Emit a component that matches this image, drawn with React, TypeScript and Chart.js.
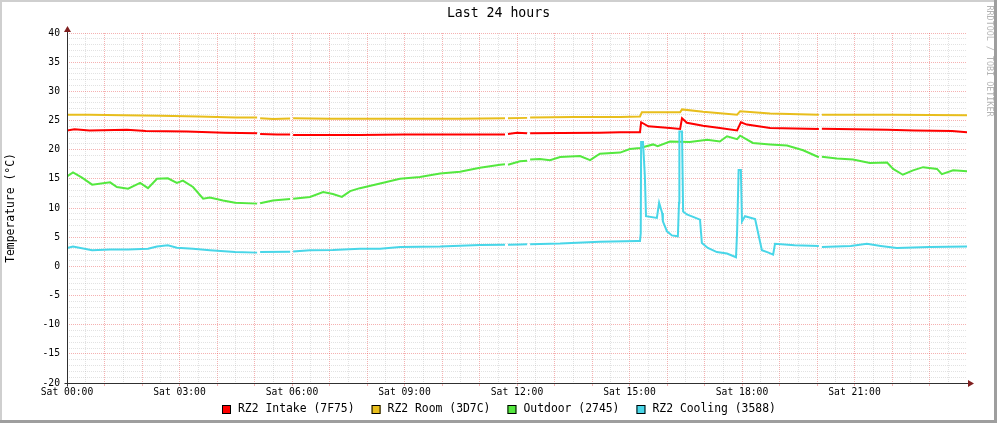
import React, { useEffect, useRef } from "react";
import { Chart, registerables } from "chart.js";

Chart.register(...registerables);

const W = 997;
const H = 423;
const FONT = '"DejaVu Sans Mono", monospace';

const titleText = "Last 24 hours";
const yAxisTitle = "Temperature (°C)";
const watermarkText = "RRDTOOL / TOBI OETIKER";

const xTickHours = [0, 3, 6, 9, 12, 15, 18, 21];
const xTickLabels = ["Sat 00:00", "Sat 03:00", "Sat 06:00", "Sat 09:00", "Sat 12:00", "Sat 15:00", "Sat 18:00", "Sat 21:00"];
const yTickValues = [40, 35, 30, 25, 20, 15, 10, 5, 0, -5, -10, -15, -20];

const seriesNames = ["RZ2 Intake (7F75)", "RZ2 Room (3D7C)", "Outdoor (2745)", "RZ2 Cooling (3588)"];
const seriesColors = ["#FF0000", "#E8BE1C", "#54E83F", "#48D6E8"];

const intakeHours = [0, 0.2, 0.6, 1.6, 2.1, 3.2, 4.2, 5.07, 5.11, 5.15, 5.6, 5.95, 5.99, 6.03, 7.0, 7.81, 9.0, 10.5, 11.68, 11.72, 11.76, 12.0, 12.27, 12.31, 12.35, 13.2, 14.2, 14.75, 15.28, 15.31, 15.5, 16.08, 16.35, 16.4, 16.53, 16.96, 17.41, 17.87, 17.97, 18.13, 18.75, 20.05, 20.09, 20.13, 21.87, 22.6, 23.6, 24.0];
const intakeValues = [23.3, 23.5, 23.3, 23.4, 23.2, 23.1, 22.9, 22.8, null, 22.7, 22.6, 22.6, null, 22.5, 22.5, 22.5, 22.6, 22.6, 22.6, null, 22.7, 22.9, 22.8, null, 22.8, 22.85, 22.9, 23.0, 23.0, 24.7, 24.0, 23.7, 23.55, 25.4, 24.6, 24.1, 23.7, 23.3, 24.7, 24.3, 23.7, 23.55, null, 23.6, 23.4, 23.3, 23.2, 23.0];

const roomHours = [0, 0.6, 1.5, 2.5, 3.5, 4.5, 5.07, 5.11, 5.15, 5.5, 5.95, 5.99, 6.03, 7.0, 7.81, 9.0, 10.5, 11.68, 11.72, 11.76, 12.27, 12.31, 12.35, 13.5, 14.75, 15.28, 15.33, 16.35, 16.4, 16.96, 17.87, 17.95, 18.75, 20.05, 20.09, 20.13, 22.0, 24.0];
const roomValues = [26.0, 26.0, 25.9, 25.8, 25.7, 25.5, 25.5, null, 25.4, 25.25, 25.35, null, 25.4, 25.3, 25.3, 25.3, 25.3, 25.4, null, 25.4, 25.45, null, 25.5, 25.6, 25.6, 25.7, 26.4, 26.4, 26.9, 26.5, 26.0, 26.6, 26.2, 26.0, null, 26.0, 26.0, 25.9];

const outdoorHours = [0, 0.16, 0.4, 0.67, 1.15, 1.33, 1.63, 1.95, 2.16, 2.4, 2.69, 2.93, 3.09, 3.36, 3.63, 3.81, 4.16, 4.48, 5.07, 5.11, 5.15, 5.49, 5.95, 5.99, 6.03, 6.48, 6.83, 7.09, 7.33, 7.55, 7.81, 8.35, 8.88, 9.41, 9.95, 10.48, 11.01, 11.55, 11.68, 11.72, 11.76, 12.08, 12.27, 12.31, 12.35, 12.61, 12.88, 13.15, 13.68, 13.95, 14.21, 14.75, 15.01, 15.28, 15.63, 15.75, 16.08, 16.61, 17.07, 17.41, 17.6, 17.87, 17.95, 18.29, 18.75, 19.2, 19.63, 20.05, 20.09, 20.13, 20.53, 20.96, 21.41, 21.87, 22.03, 22.29, 22.56, 22.83, 23.2, 23.33, 23.63, 24.0];
const outdoorValues = [15.4, 16.1, 15.2, 14.0, 14.4, 13.6, 13.3, 14.3, 13.4, 15.0, 15.1, 14.3, 14.7, 13.6, 11.6, 11.8, 11.3, 10.9, 10.75, null, 10.8, 11.3, 11.55, null, 11.6, 11.9, 12.75, 12.4, 11.9, 12.9, 13.4, 14.2, 15.0, 15.3, 15.9, 16.2, 16.9, 17.4, 17.5, null, 17.4, 18.0, 18.1, null, 18.3, 18.4, 18.2, 18.75, 18.9, 18.2, 19.3, 19.5, 20.1, 20.3, 20.9, 20.6, 21.4, 21.3, 21.7, 21.4, 22.3, 21.8, 22.4, 21.15, 20.9, 20.7, 19.9, 18.7, null, 18.8, 18.5, 18.3, 17.7, 17.8, 16.7, 15.7, 16.45, 17.0, 16.7, 15.8, 16.45, 16.3];

const coolingHours = [0, 0.16, 0.67, 1.15, 1.63, 2.16, 2.4, 2.69, 2.93, 3.36, 3.81, 4.48, 5.07, 5.11, 5.15, 5.95, 5.99, 6.03, 6.48, 7.09, 7.81, 8.35, 8.88, 9.95, 11.01, 11.68, 11.72, 11.76, 12.08, 12.27, 12.31, 12.35, 13.15, 14.21, 15.2, 15.28, 15.3, 15.31, 15.36, 15.41, 15.44, 15.73, 15.79, 15.87, 15.89, 16.0, 16.13, 16.29, 16.32, 16.33, 16.4, 16.43, 16.53, 16.88, 16.93, 17.09, 17.33, 17.6, 17.84, 17.87, 17.91, 17.97, 18.0, 18.08, 18.35, 18.43, 18.53, 18.69, 18.83, 18.88, 19.4, 20.05, 20.09, 20.13, 20.9, 21.33, 21.7, 22.13, 23.0, 24.0];
const coolingValues = [3.15, 3.4, 2.75, 2.9, 2.9, 3.0, 3.4, 3.6, 3.2, 3.0, 2.75, 2.45, 2.35, null, 2.45, 2.5, null, 2.55, 2.75, 2.8, 3.0, 3.0, 3.3, 3.4, 3.65, 3.7, null, 3.7, 3.75, 3.8, null, 3.8, 3.9, 4.2, 4.35, 4.35, 5.7, 21.3, 21.3, 15.4, 8.6, 8.3, 10.9, 9.15, 7.7, 6.0, 5.3, 5.15, 10.9, 23.1, 23.1, 9.4, 8.9, 8.0, 4.0, 3.15, 2.45, 2.2, 1.55, 6.0, 16.5, 16.5, 7.7, 8.6, 8.1, 5.7, 2.75, 2.4, 2.0, 3.85, 3.6, 3.5, null, 3.3, 3.5, 3.85, 3.5, 3.15, 3.3, 3.4];

const seriesHours = [intakeHours, roomHours, outdoorHours, coolingHours];
const seriesValues = [intakeValues, roomValues, outdoorValues, coolingValues];

const MAJOR_GRID = "rgba(232, 70, 70, 0.42)";
const MINOR_GRID = "rgba(165, 165, 165, 0.32)";
const AXIS_COLOR = "#303030";
const ARROW_COLOR = "#801f1f";

const decorPlugin = {
  id: "rrdDecor",
  beforeDraw(chart: any) {
    const ctx = chart.ctx as CanvasRenderingContext2D;
    ctx.save();
    ctx.fillStyle = "#ffffff";
    ctx.fillRect(0, 0, W, H);
    ctx.fillStyle = "#cfcfcf";
    ctx.fillRect(0, 0, W, 2);
    ctx.fillRect(0, 0, 2, H);
    ctx.fillStyle = "#9e9e9e";
    ctx.fillRect(W - 3, 0, 3, H);
    ctx.fillRect(0, H - 3, W, 3);
    ctx.restore();
  },
  afterDatasetsDraw(chart: any) {
    const ctx = chart.ctx as CanvasRenderingContext2D;
    const xs = chart.scales.x;
    const ys = chart.scales.y;
    const x0 = Math.floor(xs.getPixelForValue(0)) + 0.5;
    const yb = Math.floor(ys.getPixelForValue(-20)) + 0.5;
    const yt = ys.getPixelForValue(40);
    const xr = xs.getPixelForValue(24);
    ctx.save();
    ctx.strokeStyle = AXIS_COLOR;
    ctx.lineWidth = 1;
    ctx.beginPath();
    ctx.moveTo(x0 - 3, yb);
    ctx.lineTo(xr + 2, yb);
    ctx.moveTo(x0, yb + 3);
    ctx.lineTo(x0, yt - 3);
    ctx.stroke();
    ctx.fillStyle = ARROW_COLOR;
    ctx.beginPath();
    ctx.moveTo(xr + 1, yb - 3.5);
    ctx.lineTo(xr + 7, yb);
    ctx.lineTo(xr + 1, yb + 3.5);
    ctx.closePath();
    ctx.fill();
    ctx.beginPath();
    ctx.moveTo(x0 - 3.5, yt - 1);
    ctx.lineTo(x0, yt - 7);
    ctx.lineTo(x0 + 3.5, yt - 1);
    ctx.closePath();
    ctx.fill();
    ctx.restore();
  },
  afterDraw(chart: any) {
    const ctx = chart.ctx as CanvasRenderingContext2D;
    const area = chart.chartArea;
    ctx.save();
    ctx.fillStyle = "#000000";
    ctx.font = `13.2px ${FONT}`;
    ctx.textAlign = "center";
    ctx.textBaseline = "middle";
    ctx.fillText(titleText, W / 2, 14);
    ctx.save();
    ctx.translate(11, (area.top + area.bottom) / 2);
    ctx.rotate(-Math.PI / 2);
    ctx.font = `11.4px ${FONT}`;
    ctx.fillText(yAxisTitle, 0, 0);
    ctx.restore();
    ctx.save();
    ctx.translate(989, 61);
    ctx.rotate(Math.PI / 2);
    ctx.font = `8.4px ${FONT}`;
    ctx.fillStyle = "#b4b4b4";
    ctx.fillText(watermarkText, 0, 0);
    ctx.restore();
    ctx.font = `11.4px ${FONT}`;
    ctx.textAlign = "left";
    ctx.textBaseline = "middle";
    const box = 9;
    const boxGap = 7;
    const itemGap = 17;
    const widths = seriesNames.map((n) => box + boxGap + ctx.measureText(n).width);
    const total = widths.reduce((a, b) => a + b, 0) + itemGap * (widths.length - 1);
    let x = Math.round(W / 2 - total / 2);
    const ly = 409.5;
    seriesNames.forEach((name, i) => {
      ctx.fillStyle = seriesColors[i];
      ctx.fillRect(x, ly - 4.5, box, box);
      ctx.strokeStyle = "#000000";
      ctx.lineWidth = 1;
      ctx.strokeRect(x + 0.5, ly - 4.5 + 0.5, box - 1, box - 1);
      ctx.fillStyle = "#000000";
      ctx.fillText(name, x + box + boxGap, ly);
      x += widths[i] + itemGap;
    });
    ctx.restore();
  },
};

export default function App() {
  const ref = useRef<HTMLCanvasElement | null>(null);

  useEffect(() => {
    const canvas = ref.current;
    if (!canvas) return;
    const datasets = seriesNames.map((name, i) => ({
      label: name,
      data: seriesHours[i].map((h, j) => ({ x: h, y: seriesValues[i][j] })),
      borderColor: seriesColors[i],
      backgroundColor: seriesColors[i],
      borderWidth: 2,
      pointRadius: 0,
      pointHoverRadius: 0,
      tension: 0,
      spanGaps: false,
      fill: false,
      order: seriesNames.length - i,
    }));

    const chart = new Chart(canvas, {
      type: "line",
      data: { datasets },
      options: {
        responsive: false,
        animation: false,
        devicePixelRatio: 1,
        events: [],
        layout: { padding: { top: 33, right: 30, left: 0, bottom: 0 } },
        plugins: {
          legend: { display: false },
          title: { display: false },
          tooltip: { enabled: false },
        },
        scales: {
          x: {
            type: "linear",
            min: 0,
            max: 24,
            afterFit: (s: any) => {
              s.height = 40;
            },
            border: { display: false, dash: [1, 1] },
            grid: {
              drawTicks: true,
              tickLength: 3,
              color: (c: any) => {
                const v = c.tick ? c.tick.value : 0;
                if (v >= 24) return "rgba(0,0,0,0)";
                return Number.isInteger(v) ? MAJOR_GRID : MINOR_GRID;
              },
              tickColor: (c: any) => {
                const v = c.tick ? c.tick.value : 0;
                if (v >= 24) return "rgba(0,0,0,0)";
                return Number.isInteger(v) ? MAJOR_GRID : "rgba(0,0,0,0)";
              },
            },
            ticks: {
              stepSize: 0.5,
              autoSkip: false,
              maxRotation: 0,
              minRotation: 0,
              padding: 1,
              color: "#000000",
              font: { family: FONT, size: 9.7 },
              callback: (v: any) => {
                const i = xTickHours.indexOf(Number(v));
                return i >= 0 ? xTickLabels[i] : "";
              },
            },
          },
          y: {
            type: "linear",
            min: -20,
            max: 40,
            afterFit: (s: any) => {
              s.width = 67;
            },
            border: { display: false, dash: [1, 1] },
            grid: {
              drawTicks: false,
              color: (c: any) => {
                const v = c.tick ? c.tick.value : 0;
                return v % 5 === 0 ? MAJOR_GRID : MINOR_GRID;
              },
            },
            ticks: {
              stepSize: 1,
              autoSkip: false,
              padding: 7,
              color: "#000000",
              font: { family: FONT, size: 9.7 },
              callback: (v: any) => (yTickValues.includes(Number(v)) ? String(v) : ""),
            },
          },
        },
      },
      plugins: [decorPlugin],
    } as any);

    return () => {
      chart.destroy();
    };
  }, []);

  return (
    <div style={{ position: "absolute", left: 0, top: 0, width: W, height: H, background: "#ffffff" }}>
      <canvas ref={ref} width={W} height={H} style={{ display: "block", width: W, height: H }} />
    </div>
  );
}
